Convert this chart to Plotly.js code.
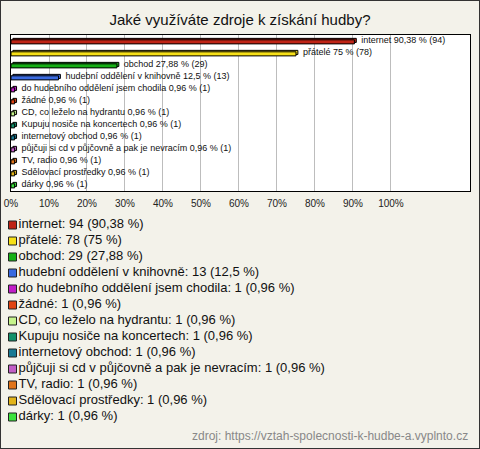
<!DOCTYPE html>
<html>
<head>
<meta charset="utf-8">
<script src="https://cdn.plot.ly/plotly-3.0.1.min.js"></script>
<style>
html,body{margin:0;padding:0;background:#f3f2ea;}
#chart{width:478px;height:447px;border:1px solid #333;}
</style>
</head>
<body>
<div id="chart"></div>
<script>
// ---- data ----
const categories = [
  "internet",
  "přátelé",
  "obchod",
  "hudební oddělení v knihovně",
  "do hudebního oddělení jsem chodila",
  "žádné",
  "CD, co leželo na hydrantu",
  "Kupuju nosiče na koncertech",
  "internetový obchod",
  "půjčuji si cd v půjčovně a pak je nevracím",
  "TV, radio",
  "Sdělovací prostředky",
  "dárky"
];
const counts = [94, 78, 29, 13, 1, 1, 1, 1, 1, 1, 1, 1, 1];
const percents = [90.38, 75, 27.88, 12.5, 0.96, 0.96, 0.96, 0.96, 0.96, 0.96, 0.96, 0.96, 0.96];
const colors = [
  "#bf2416", "#f7e017", "#16b016", "#3a6ae0", "#c21ec8", "#e04412",
  "#c6f48c", "#12906a", "#1a7a94", "#c25ec6", "#e0741a", "#e2b41a", "#3ce23c"
];
const tickValues = [0, 10, 20, 30, 40, 50, 60, 70, 80, 90, 100];
const titleText = "Jaké využíváte zdroje k získání hudby?";
const sourceText = "zdroj: https://vztah-spolecnosti-k-hudbe-a.vyplnto.cz";

// ---- helpers ----
const fmt = v => String(v).replace('.', ',');
const barLabels = categories.map((c, i) => '\u00a0\u00a0' + c + ' ' + fmt(percents[i]) + ' % (' + counts[i] + ')');
const legendLabels = categories.map((c, i) => c + ': ' + counts[i] + ' (' + fmt(percents[i]) + ' %)');
const depth = 0.5; // 3D depth in axis units (style)

const backBars = {
  type: 'bar', orientation: 'h',
  x: percents, y: categories,
  base: percents.map(() => depth),
  width: 0.34, offset: -0.22,
  marker: {color: colors, line: {color: '#000', width: 1}},
  text: barLabels, textposition: 'outside', constraintext: 'none', cliponaxis: false,
  textfont: {family: 'Liberation Sans, Arial, sans-serif', size: 9, color: '#111'},
  hoverinfo: 'skip'
};
const frontBars = {
  type: 'bar', orientation: 'h',
  x: percents, y: categories,
  width: 0.34, offset: -0.1,
  marker: {color: colors, line: {color: '#000', width: 1}},
  hoverinfo: 'skip', cliponaxis: false
};
const legendTrace = {
  type: 'scatter', mode: 'markers+text',
  xaxis: 'x2', yaxis: 'y2',
  x: categories.map(() => 0), y: categories,
  marker: {symbol: 'square', size: 8, color: colors, line: {color: '#222', width: 1}},
  text: legendLabels, textposition: 'middle right', cliponaxis: false,
  textfont: {family: 'Liberation Sans, Arial, sans-serif', size: 13, color: '#111'},
  hoverinfo: 'skip'
};

const layout = {
  width: 478, height: 447,
  margin: {l: 10, r: 9, t: 34, b: 0, pad: 0},
  paper_bgcolor: '#f3f2ea', plot_bgcolor: 'rgba(0,0,0,0)',
  font: {family: 'Liberation Sans, Arial, sans-serif', color: '#222'},
  showlegend: false, barmode: 'overlay', hovermode: false,
  title: {text: titleText, x: 0.5, xref: 'container', y: 1 - 19/447, yanchor: 'middle',
          font: {size: 15, color: '#111'}},
  xaxis: {
    range: [0, 120.8], tickvals: tickValues, ticktext: tickValues.map(v => v + '%'),
    showgrid: true, gridcolor: '#bdbdbd', gridwidth: 1, zeroline: false,
    showline: true, linecolor: '#000', linewidth: 1, mirror: true,
    ticks: '', tickfont: {size: 10, color: '#222'}, ticklabelstandoff: 3,
    fixedrange: true
  },
  yaxis: {
    type: 'category', categoryorder: 'array', categoryarray: categories,
    range: [12.5, -0.5], domain: [257/413, 1],
    showticklabels: false, ticks: '', showgrid: false, zeroline: false,
    showline: true, linecolor: '#000', linewidth: 1, mirror: true,
    fixedrange: true
  },
  xaxis2: {anchor: 'y2', domain: [0, 1], range: [-1.5, 457.5], visible: false, fixedrange: true},
  yaxis2: {anchor: 'x2', type: 'category', categoryorder: 'array', categoryarray: categories,
           range: [12.5, -0.5], domain: [23/413, 231/413], visible: false, fixedrange: true},
  shapes: [{
    type: 'rect', xref: 'x domain', yref: 'y domain', x0: 0, x1: 1, y0: 0, y1: 1,
    fillcolor: '#ffffff', line: {width: 0}, layer: 'below'
  }],
  annotations: [{
    text: sourceText, xref: 'paper', yref: 'paper', x: 1, y: 12/413,
    xanchor: 'right', yanchor: 'middle', showarrow: false,
    font: {size: 12, color: '#888'}
  }]
};

Plotly.newPlot('chart', [backBars, frontBars, legendTrace], layout, {staticPlot: true, displayModeBar: false});
</script>
</body>
</html>
